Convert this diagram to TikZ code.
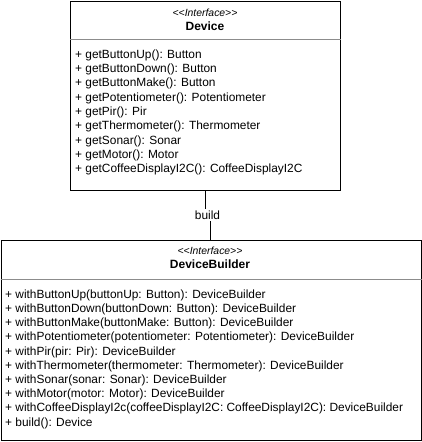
\documentclass[tikz,border=0pt]{standalone}
\usepackage{fontspec}
\setmainfont{Liberation Sans}
\usetikzlibrary{positioning,calc}
\definecolor{sepgrey}{gray}{0.55}
\tikzset{
  cls/.style={draw,line width=0.9pt,inner sep=0pt,anchor=north west},
  stereo/.style={font=\fontsize{10.4}{12}\selectfont\itshape,inner sep=0pt},
  ctitle/.style={font=\fontsize{12}{14}\selectfont\bfseries,inner sep=0pt},
  meth/.style={font=\fontsize{11.9}{14.3}\selectfont,align=left,inner sep=0pt,
               anchor=north west},
  sep/.style={sepgrey,line width=0.6pt},
  ln/.style={line width=0.9pt},
  lbl/.style={font=\fontsize{11.9}{13}\selectfont,fill=white,inner sep=1.5pt},
}
\begin{document}
\begin{tikzpicture}[x=1pt,y=-1pt]
\useasboundingbox (0,0) rectangle (422,442);

% Device interface
\node[cls,minimum width=270pt,minimum height=189pt] (dev) at (70,0.5) {};
\node[stereo] (devst) at (205,13) {{<}{<}Interface{>}{>}};
\node[ctitle] (devtt) at (205,26) {Device};
\draw[sep] (dev.west |- 0,39) -- (dev.east |- 0,39);
\node[meth] (devops) at (75,49.5) {+ getButtonUp(): Button\\
+ getButtonDown(): Button\\
+ getButtonMake(): Button\\
+ getPotentiometer(): Potentiometer\\
+ getPir(): Pir\\
+ getThermometer(): Thermometer\\
+ getSonar(): Sonar\\
+ getMotor(): Motor\\
+ getCoffeeDisplayI2C(): CoffeeDisplayI2C};

% DeviceBuilder interface
\node[cls,minimum width=420.5pt,minimum height=200pt] (bld) at (0.5,240) {};
\node[stereo] (bldst) at (210,251) {{<}{<}Interface{>}{>}};
\node[ctitle] (bldtt) at (210,264) {DeviceBuilder};
\draw[sep] (bld.west |- 0,279) -- (bld.east |- 0,279);
\node[meth,font=\fontsize{11.9}{14.2}\selectfont] (bldops) at (5,289.5) {+ withButtonUp(buttonUp: Button): DeviceBuilder\\
+ withButtonDown(buttonDown: Button): DeviceBuilder\\
+ withButtonMake(buttonMake: Button): DeviceBuilder\\
+ withPotentiometer(potentiometer: Potentiometer): DeviceBuilder\\
+ withPir(pir: Pir): DeviceBuilder\\
+ withThermometer(thermometer: Thermometer): DeviceBuilder\\
+ withSonar(sonar: Sonar): DeviceBuilder\\
+ withMotor(motor: Motor): DeviceBuilder\\
+ withCoffeeDisplayI2c(coffeeDisplayI2C: CoffeeDisplayI2C): DeviceBuilder\\
+ build(): Device};

% build link
\coordinate (jog) at (207.5,215);
\draw[ln] (dev.south -| 205,0) |- (jog) -| (bld.north -| 210,0);
\node[lbl] (build) at (jog) {build};
\end{tikzpicture}
\end{document}
